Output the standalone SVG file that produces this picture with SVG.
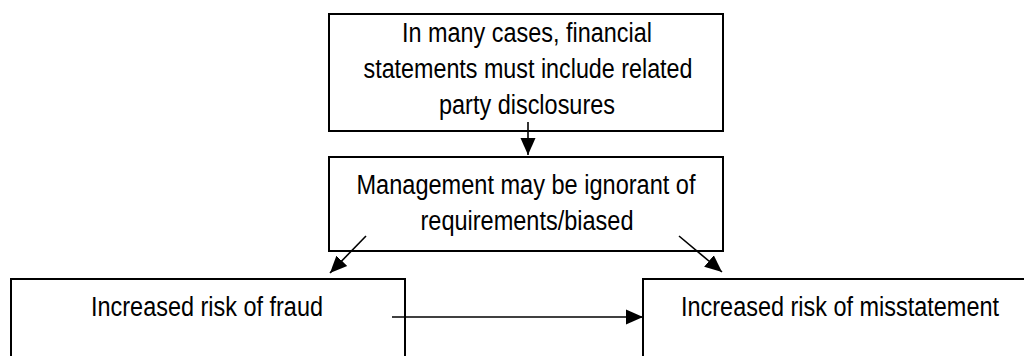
<svg xmlns="http://www.w3.org/2000/svg" width="1024" height="356" viewBox="0 0 1024 356">
  <style>
    .box { fill: #ffffff; stroke: #000000; stroke-width: 2; }
    .open { fill: none; stroke: #000000; stroke-width: 2; }
    .lbl { font-family: "Liberation Sans", Arial, sans-serif; font-size: 27px; fill: #000000; text-anchor: middle; }
    .conn { stroke: #000000; stroke-width: 1.6; fill: none; marker-end: url(#arr); }
  </style>
  <defs>
    <marker id="arr" markerUnits="userSpaceOnUse" markerWidth="18" markerHeight="18" viewBox="0 0 18 18" refX="17" refY="9" orient="auto">
      <path d="M0,1.5 L17,9 L0,16.5 Z" fill="#000000"/>
    </marker>
  </defs>
  <rect width="1024" height="356" fill="#ffffff"/>
  <g id="node-disclosures">
    <rect class="box" x="329" y="14" width="394" height="117"/>
    <text class="lbl" x="527" y="42" textLength="250" lengthAdjust="spacingAndGlyphs">In many cases, financial</text>
    <text class="lbl" x="528" y="78" textLength="329" lengthAdjust="spacingAndGlyphs">statements must include related</text>
    <text class="lbl" x="527" y="114" textLength="176" lengthAdjust="spacingAndGlyphs">party disclosures</text>
  </g>
  <g id="node-management">
    <rect class="box" x="329" y="157" width="394" height="94"/>
    <text class="lbl" x="526" y="194" textLength="339" lengthAdjust="spacingAndGlyphs">Management may be ignorant of</text>
    <text class="lbl" x="527" y="230" textLength="213" lengthAdjust="spacingAndGlyphs">requirements/biased</text>
  </g>
  <g id="node-fraud">
    <path class="open" d="M11,357 V279 H405 V357"/>
    <text class="lbl" x="207" y="316" textLength="232" lengthAdjust="spacingAndGlyphs">Increased risk of fraud</text>
  </g>
  <g id="node-misstatement">
    <path class="open" d="M643,357 V279 H1024"/>
    <text class="lbl" x="840" y="316" textLength="318" lengthAdjust="spacingAndGlyphs">Increased risk of misstatement</text>
  </g>
  <g id="connectors">
    <line class="conn" x1="528" y1="122" x2="528" y2="155"/>
    <line class="conn" x1="366" y1="236" x2="330" y2="273"/>
    <line class="conn" x1="679" y1="236" x2="722" y2="272"/>
    <line class="conn" x1="392" y1="317" x2="643" y2="317"/>
  </g>
</svg>
